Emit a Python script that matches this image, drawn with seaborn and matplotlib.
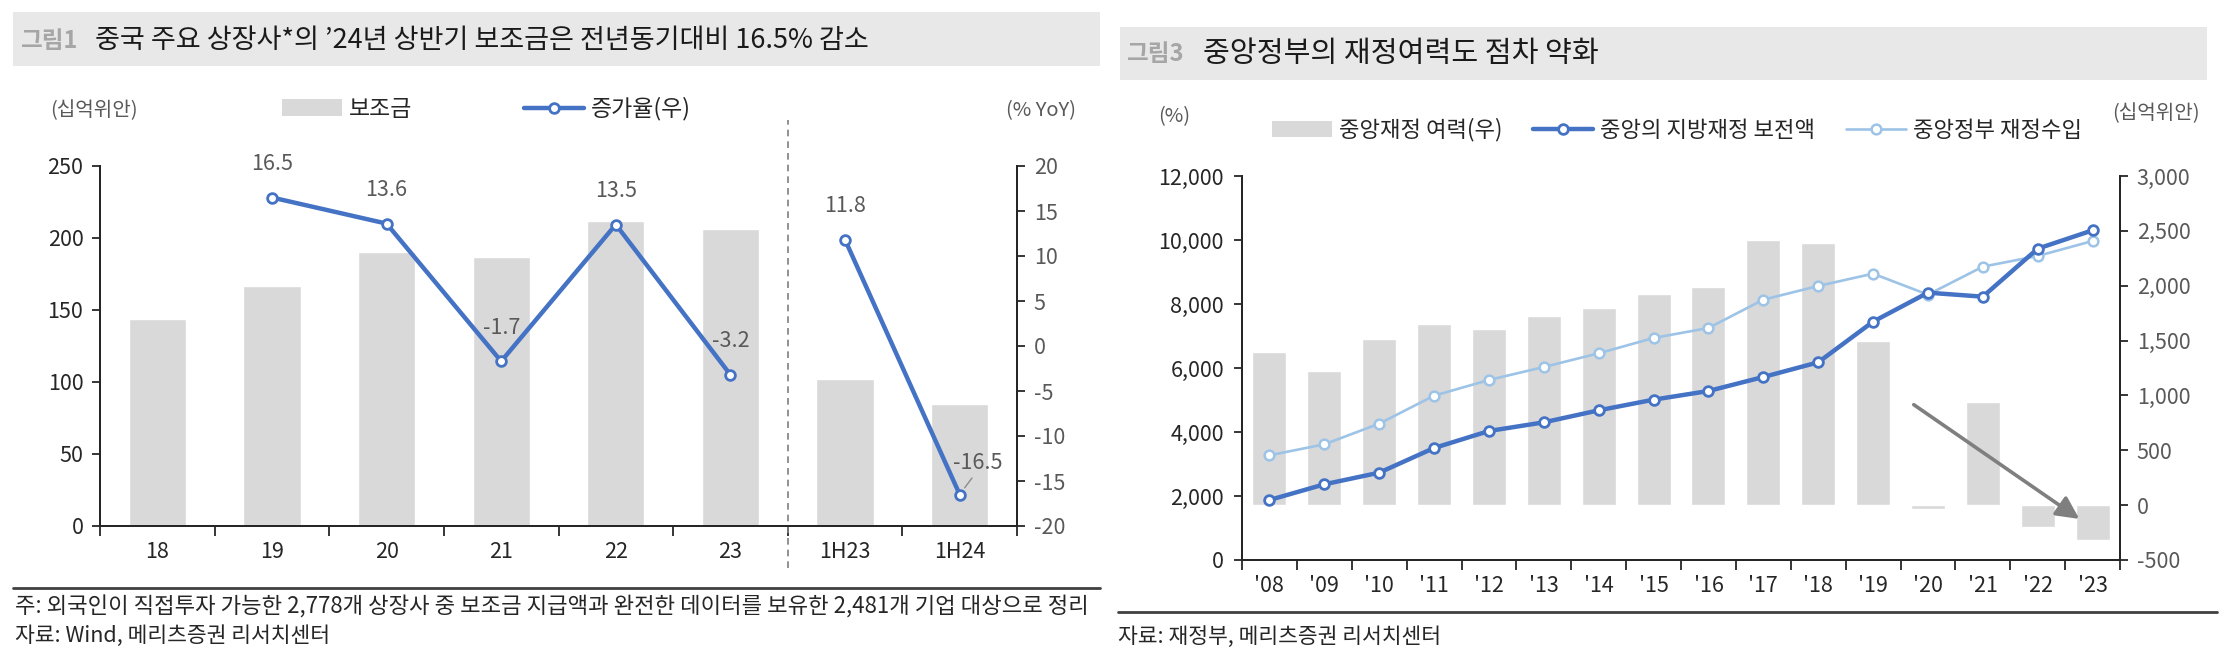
import numpy as np
import matplotlib
matplotlib.use("Agg")
import matplotlib.pyplot as plt
import seaborn as sns
from matplotlib.patches import Rectangle, Patch
from matplotlib.lines import Line2D
from matplotlib.ticker import FuncFormatter, FixedLocator

# ---- 그림1 data ----
periods = ["18", "19", "20", "21", "22", "23", "1H23", "1H24"]
subsidy = [144, 167, 190, 187, 212, 206, 102, 85]          # 십억위안
yoy = [np.nan, 16.5, 13.6, -1.7, 13.5, -3.2, 11.8, -16.5]  # % YoY
annual = slice(1, 6)   # 19 ~ 23
half = slice(6, 8)     # 1H23 ~ 1H24

# ---- 그림3 data ----
years = ["'08", "'09", "'10", "'11", "'12", "'13", "'14", "'15",
         "'16", "'17", "'18", "'19", "'20", "'21", "'22", "'23"]
capacity = [1400, 1227, 1518, 1648, 1603, 1724, 1794, 1927,
            1985, 2415, 2385, 1500, -39, 936, -203, -318]      # 중앙재정 여력(우)
transfer = [1875, 2365, 2729, 3500, 4031, 4302, 4677, 5010,
            5281, 5719, 6177, 7448, 8354, 8229, 9729, 10302]   # 중앙의 지방재정 보전액
revenue = [3271, 3615, 4260, 5135, 5625, 6031, 6459, 6938,
           7250, 8135, 8563, 8948, 8292, 9167, 9500, 9969]     # 중앙정부 재정수입

BAR = "#D9D9D9"
BLUE = "#4472C4"
LIGHT = "#9DC3E6"
DARK = "#262626"
GRAY = "#595959"

sns.set_style("ticks")
plt.rcParams["font.family"] = ["Noto Sans CJK KR", "DejaVu Sans"]
plt.rcParams["axes.unicode_minus"] = False

W, H = 2240, 667
fig = plt.figure(figsize=(W / 100, H / 100), dpi=100)


def fx(px):
    return px / W


def fy(py):
    return 1 - py / H


def style_axes(ax, n):
    for s in ["left", "bottom", "right"]:
        ax.spines[s].set_color(DARK)
        ax.spines[s].set_linewidth(1.4)
    ax.spines["top"].set_visible(False)
    ax.set_xlim(-0.5, n - 0.5)
    ax.xaxis.set_minor_locator(FixedLocator(np.arange(-0.5, n, 1)))
    ax.tick_params(axis="x", which="major", length=0, pad=11, labelsize=15.5, labelcolor="#262626")
    ax.tick_params(axis="x", which="minor", length=7, width=1.3, color=DARK)
    ax.set_xlabel("")
    ax.set_ylabel("")


# ================= 그림1 =================
ax1 = fig.add_axes([fx(100), fy(526), fx(1017) - fx(100), fy(166) - fy(526)])
sns.barplot(x=periods, y=subsidy, color=BAR, width=0.5, saturation=1, ax=ax1)
ax1.set_ylim(0, 250)
ax1.set_yticks(np.arange(0, 251, 50))
ax1.tick_params(axis="y", length=6, width=1.3, pad=6, labelsize=15.5, labelcolor="#262626", color=DARK)
style_axes(ax1, len(periods))

ax1r = ax1.twinx()
xpos = np.arange(len(periods))
line_kw = dict(color=BLUE, lw=3.2, marker="o", markersize=7, markerfacecolor="white",
               markeredgecolor=BLUE, markeredgewidth=2)
for seg in (annual, half):
    sns.lineplot(x=xpos[seg], y=yoy[seg], ax=ax1r, **line_kw)
ax1r.set_ylim(-20, 20)
ax1r.set_yticks(np.arange(-20, 21, 5))
ax1r.tick_params(axis="y", length=6, width=1.3, pad=6, labelsize=15.5, labelcolor=GRAY, color=DARK)
style_axes(ax1r, len(periods))

for i, v in enumerate(yoy):
    if np.isnan(v):
        continue
    if i == len(yoy) - 1:
        ax1r.annotate(f"{v:.1f}", xy=(i, v), xytext=(13, 23), textcoords="offset points",
                      ha="center", va="center", fontsize=15.5, color=GRAY,
                      arrowprops=dict(arrowstyle="-", color="#8c8c8c", lw=1,
                                      relpos=(0.45, 0), shrinkA=1, shrinkB=6))
    else:
        ax1r.annotate(f"{v:.1f}", xy=(i, v), xytext=(0, 24), textcoords="offset points",
                      ha="center", va="center", fontsize=15.5, color=GRAY)

ax1.axvline(5.5, ymin=-0.117, ymax=1.128, clip_on=False, color="#7f7f7f",
            lw=1.2, ls=(0, (4, 3)))

ax1.legend(handles=[Patch(facecolor=BAR, edgecolor="none"), Line2D([], [], **line_kw)],
           labels=["보조금", "증가율(우)"], ncol=2, loc="center left",
           bbox_to_anchor=(fx(282), fy(109)), bbox_transform=fig.transFigure,
           frameon=False, handlelength=2.6, handleheight=0.75, columnspacing=4.9,
           handletextpad=0.3, borderaxespad=0, borderpad=0, fontsize=16.5,
           labelcolor=DARK)

fig.text(fx(50), fy(111), "(십억위안)", fontsize=14.5, color=GRAY, ha="left", va="center")
fig.text(fx(1076), fy(111), "(% YoY)", fontsize=14.5, color=GRAY, ha="right", va="center")

# title bar and footer
fig.add_artist(Rectangle((fx(13), fy(66)), fx(1100) - fx(13), fy(12) - fy(66),
                         transform=fig.transFigure, facecolor="#E8E8E8", edgecolor="none", zorder=0))
fig.text(fx(20), fy(41), "그림1", fontsize=17, color="#A6A6A6", fontweight="bold", ha="left", va="center")
fig.text(fx(95), fy(41), "중국 주요 상장사*의 ’24년 상반기 보조금은 전년동기대비 16.5% 감소",
         fontsize=19.5, color="#1A1A1A", ha="left", va="center")
fig.add_artist(Line2D([fx(13), fx(1100)], [fy(588), fy(588)], transform=fig.transFigure,
                      color="#404040", lw=2))
fig.text(fx(15), fy(607), "주: 외국인이 직접투자 가능한 2,778개 상장사 중 보조금 지급액과 완전한 데이터를 보유한 2,481개 기업 대상으로 정리",
         fontsize=16, color=DARK, ha="left", va="center")
fig.text(fx(15), fy(636), "자료: Wind, 메리츠증권 리서치센터", fontsize=15.5, color=DARK,
         ha="left", va="center")

# ================= 그림3 =================
ax3 = fig.add_axes([fx(1242), fy(560), fx(2120) - fx(1242), fy(176) - fy(560)])
ax3r = ax3.twinx()
sns.barplot(x=years, y=capacity, color=BAR, width=0.62, saturation=1, ax=ax3r)
ax3r.set_ylim(-500, 3000)
ax3r.set_yticks(np.arange(-500, 3001, 500))
ax3r.yaxis.set_major_formatter(FuncFormatter(lambda v, p: f"{v:,.0f}"))
ax3r.tick_params(axis="y", length=6, width=1.3, pad=6, labelsize=15.5, labelcolor=GRAY, color=DARK)
style_axes(ax3r, len(years))

ypos = np.arange(len(years))
dark_kw = dict(color=BLUE, lw=3.2, marker="o", markersize=7, markerfacecolor="white",
               markeredgecolor=BLUE, markeredgewidth=2)
light_kw = dict(color=LIGHT, lw=1.9, marker="o", markersize=7, markerfacecolor="white",
                markeredgecolor=LIGHT, markeredgewidth=1.8)
sns.lineplot(x=ypos, y=revenue, ax=ax3, **light_kw)
sns.lineplot(x=ypos, y=transfer, ax=ax3, **dark_kw)
ax3.set_ylim(0, 12000)
ax3.set_yticks(np.arange(0, 12001, 2000))
ax3.yaxis.set_major_formatter(FuncFormatter(lambda v, p: f"{v:,.0f}"))
ax3.tick_params(axis="y", length=6, width=1.3, pad=7, labelsize=15.5, labelcolor="#262626", color=DARK)
ax3.set_xticks(ypos)
ax3.set_xticklabels(years)
style_axes(ax3, len(years))
ax3.set_zorder(ax3r.get_zorder() + 1)
ax3.patch.set_visible(False)

ax3r.annotate("", xy=(14.8, -140), xytext=(11.7, 930),
              arrowprops=dict(arrowstyle="-|>", color="#7f7f7f", lw=2.6, mutation_scale=34))

ax3.legend(handles=[Patch(facecolor=BAR, edgecolor="none"), Line2D([], [], **dark_kw),
                    Line2D([], [], **light_kw)],
           labels=["중앙재정 여력(우)", "중앙의 지방재정 보전액", "중앙정부 재정수입"],
           ncol=3, loc="center left", bbox_to_anchor=(fx(1272), fy(130)),
           bbox_transform=fig.transFigure, frameon=False, handlelength=2.7,
           handleheight=0.75, columnspacing=1.4, handletextpad=0.3,
           borderaxespad=0, borderpad=0, fontsize=16, labelcolor=DARK)

fig.text(fx(1158), fy(117), "(%)", fontsize=14.5, color=GRAY, ha="left", va="center")
fig.text(fx(2200), fy(114), "(십억위안)", fontsize=14.5, color=GRAY, ha="right", va="center")

fig.add_artist(Rectangle((fx(1120), fy(80)), fx(2207) - fx(1120), fy(27) - fy(80),
                         transform=fig.transFigure, facecolor="#E8E8E8", edgecolor="none", zorder=0))
fig.text(fx(1126), fy(54), "그림3", fontsize=17, color="#A6A6A6", fontweight="bold", ha="left", va="center")
fig.text(fx(1203), fy(54), "중앙정부의 재정여력도 점차 약화", fontsize=21, color="#1A1A1A",
         ha="left", va="center")
fig.add_artist(Line2D([fx(1118), fx(2217)], [fy(612), fy(612)], transform=fig.transFigure,
                      color="#404040", lw=2))
fig.text(fx(1118), fy(637), "자료: 재정부, 메리츠증권 리서치센터", fontsize=15.5, color=DARK,
         ha="left", va="center")

fig.savefig("out.png", dpi=100, facecolor="white")
